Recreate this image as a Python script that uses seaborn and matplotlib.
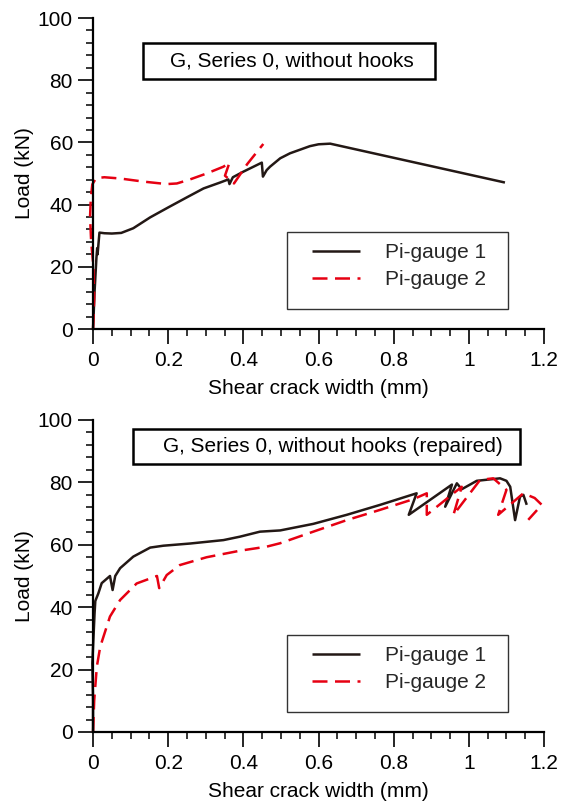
import matplotlib
matplotlib.use("Agg")
import matplotlib.pyplot as plt
import seaborn as sns
from matplotlib.ticker import MultipleLocator, FuncFormatter
from matplotlib.patches import Rectangle

# ---------------- data ----------------
top_title = "G, Series 0, without hooks"
bot_title = "G, Series 0, without hooks (repaired)"
series_names = ["Pi-gauge 1", "Pi-gauge 2"]
x_label = "Shear crack width (mm)"
y_label = "Load (kN)"

top_g1_x = [0, 0.002, 0.004, 0.009, 0.011, 0.012, 0.017, 0.03, 0.05, 0.075, 0.107, 0.152,
            0.2, 0.249, 0.294, 0.338, 0.36, 0.363, 0.372, 0.40, 0.449, 0.452, 0.462, 0.471,
            0.498, 0.524, 0.577, 0.60, 0.631, 1.096]
top_g1_y = [0, 6, 12, 23, 26, 24, 31, 30.8, 30.7, 30.9, 32.4, 35.9,
            39.1, 42.3, 45.2, 47.1, 48.1, 46.6, 48.8, 50.6, 53.5, 49.0, 51.1, 52.2,
            54.9, 56.5, 58.8, 59.4, 59.6, 47.1]

top_g2_x = [0, 0.003, 0.001, -0.005, -0.008, -0.006, -0.002, 0.008, 0.03, 0.072, 0.134,
            0.196, 0.223, 0.258, 0.302, 0.347, 0.363, 0.351, 0.375, 0.41, 0.453]
top_g2_y = [0, 10, 20, 28, 36, 42, 46.5, 48.5, 48.8, 48.4, 47.4,
            46.6, 46.8, 48.1, 50.0, 52.2, 53.5, 49.3, 46.8, 53.0, 59.5]

bot_g1_x = [0, 0.0, -0.002, 0.001, 0.004, 0.006, 0.014, 0.023, 0.045, 0.052, 0.059, 0.072,
            0.107, 0.152, 0.187, 0.258, 0.347, 0.391, 0.444, 0.498, 0.586, 0.675, 0.764,
            0.861, 0.84, 0.955, 0.937, 0.968, 0.981, 1.021, 1.083, 1.10, 1.11, 1.123,
            1.136, 1.145, 1.154]
bot_g1_y = [0, 10, 22, 30, 38, 42, 44.4, 47.7, 50, 45.5, 50, 52.5,
            56.2, 59.1, 59.7, 60.4, 61.5, 62.6, 64.2, 64.6, 66.7, 69.6, 72.8,
            76.5, 69.6, 79.3, 72.2, 79.7, 77.8, 80.5, 81.3, 80.5, 78.6, 67.9,
            75.4, 76.0, 72.8]

bot_g2_x = [0, 0.003, 0.01, 0.019, 0.045, 0.072, 0.116, 0.17, 0.176, 0.196, 0.231, 0.302,
            0.391, 0.462, 0.498, 0.586, 0.675, 0.764, 0.852, 0.888, 0.888, 0.981, 0.959,
            1.03, 1.065, 1.10, 1.078, 1.145, 1.175, 1.194, 1.158]
bot_g2_y = [0, 10, 20.9, 27.3, 37, 42.3, 47.6, 50, 46.1, 50.3, 53.5, 56,
            58.1, 59.4, 60.5, 64.2, 67.9, 71.2, 74.6, 76.5, 69.6, 78.6, 69.6,
            80.8, 81.3, 77.6, 69.6, 76.5, 75.0, 72.8, 68.0]

# ---------------- style ----------------
sns.set_theme(style="ticks")
plt.rcParams["font.family"] = ["Liberation Sans", "DejaVu Sans"]
plt.rcParams["font.size"] = 15
plt.rcParams["axes.facecolor"] = "white"
plt.rcParams["figure.facecolor"] = "white"

BLACK = "#231815"
RED = "#e60012"

fig = plt.figure(figsize=(5.64, 8.05), dpi=100)
ax1 = fig.add_axes([0.165, 0.5913, 0.7996, 0.3863])
ax2 = fig.add_axes([0.165, 0.0907, 0.7996, 0.3876])


def fmt(v, pos):
    return "%g" % v


def draw(ax, g1x, g1y, g2x, g2y, title, title_box, title_pos, leg_frame, leg_anchor):
    sns.lineplot(x=g1x, y=g1y, ax=ax, sort=False, estimator=None, color=BLACK,
                 lw=1.8, label=series_names[0], legend=False)
    sns.lineplot(x=g2x, y=g2y, ax=ax, sort=False, estimator=None, color=RED,
                 lw=1.8, label=series_names[1], legend=False)
    l1, l2 = ax.lines[0], ax.lines[1]
    l2.set_dashes([6.0, 3.0])
    for ln in (l1, l2):
        ln.set_clip_on(False)
        ln.set_solid_capstyle("butt")
        ln.set_dash_capstyle("butt")

    ax.set_xlim(0, 1.2)
    ax.set_ylim(0, 100)
    ax.xaxis.set_major_locator(MultipleLocator(0.2))
    ax.xaxis.set_minor_locator(MultipleLocator(0.05))
    ax.yaxis.set_major_locator(MultipleLocator(20))
    ax.yaxis.set_minor_locator(MultipleLocator(4))
    ax.xaxis.set_major_formatter(FuncFormatter(fmt))
    ax.yaxis.set_major_formatter(FuncFormatter(fmt))
    ax.tick_params(which="major", direction="out", length=10.5, width=1.2,
                   color="black", labelsize=15, labelcolor="black")
    ax.tick_params(axis="x", which="major", pad=5)
    ax.tick_params(axis="y", which="major", pad=4)
    ax.tick_params(which="minor", direction="out", length=5, width=1.1, color="black")
    for s in ("top", "right"):
        ax.spines[s].set_visible(False)
    for s in ("left", "bottom"):
        ax.spines[s].set_linewidth(1.6)
        ax.spines[s].set_color("black")
    ax.set_xlabel(x_label, fontsize=15, labelpad=7, color="black")
    ax.set_ylabel(y_label, fontsize=15, labelpad=3, color="black")
    ax.grid(False)

    # title box
    x0, y0, x1, y1 = title_box
    ax.add_patch(Rectangle((x0, y0), x1 - x0, y1 - y0, transform=ax.transAxes,
                           fill=True, fc="white", ec="black", lw=1.8, clip_on=False,
                           zorder=5))
    ax.text(title_pos[0], title_pos[1], title, transform=ax.transAxes, ha="center",
            va="center", fontsize=15, color="black", zorder=6)

    # legend frame + content
    fx0, fy0, fx1, fy1 = leg_frame
    ax.add_patch(Rectangle((fx0, fy0), fx1 - fx0, fy1 - fy0, transform=ax.transAxes,
                           fill=True, fc="white", ec="#333333", lw=1.0, clip_on=False,
                           zorder=5))
    leg = ax.legend(handles=[l1, l2], labels=series_names, loc="upper left",
                    bbox_to_anchor=leg_anchor, frameon=False, borderpad=0,
                    borderaxespad=0, handlelength=2.3, handletextpad=1.2,
                    labelspacing=0.4, fontsize=15)
    leg.set_zorder(7)


draw(ax1, top_g1_x, top_g1_y, top_g2_x, top_g2_y, top_title,
     (0.111, 0.804, 0.758, 0.920), (0.44, 0.862),
     (0.430, 0.064, 0.920, 0.312), (0.4856, 0.2765))
draw(ax2, bot_g1_x, bot_g1_y, bot_g2_x, bot_g2_y, bot_title,
     (0.0887, 0.859, 0.947, 0.971), (0.531, 0.915),
     (0.430, 0.064, 0.920, 0.311), (0.4856, 0.2756))

fig.savefig("out.png", dpi=100)
